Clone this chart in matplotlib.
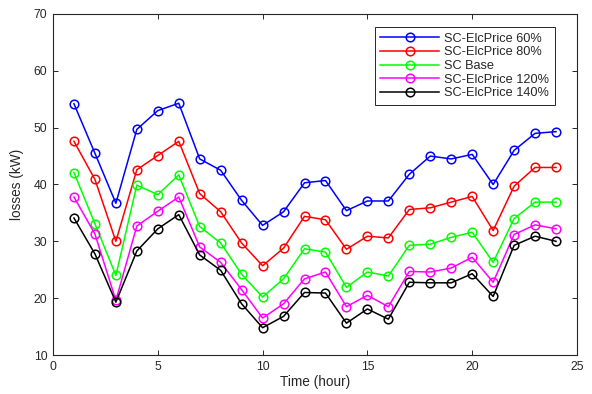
import matplotlib
matplotlib.use("Agg")
import matplotlib.pyplot as plt

hours = list(range(1, 25))

price_60 = [54.2, 45.5, 36.7, 49.7, 53.0, 54.3, 44.5, 42.5, 37.2, 32.8, 35.2, 40.3,
            40.7, 35.4, 37.1, 37.1, 41.8, 45.0, 44.5, 45.3, 40.0, 46.0, 49.0, 49.3]
price_80 = [47.6, 40.9, 30.0, 42.6, 45.1, 47.6, 38.4, 35.2, 29.7, 25.7, 28.8, 34.4,
            33.8, 28.6, 30.9, 30.6, 35.6, 35.9, 36.9, 37.9, 31.9, 39.7, 43.0, 43.0]
base = [42.1, 33.1, 24.0, 39.9, 38.2, 41.7, 32.6, 29.7, 24.2, 20.2, 23.4, 28.7,
        28.1, 21.9, 24.6, 23.9, 29.3, 29.5, 30.7, 31.6, 26.3, 34.0, 36.9, 36.9]
price_120 = [37.8, 31.3, 19.6, 32.7, 35.3, 37.8, 29.0, 26.3, 21.5, 16.5, 19.0, 23.4,
             24.6, 18.5, 20.5, 18.5, 24.7, 24.6, 25.3, 27.2, 22.8, 31.2, 32.9, 32.2]
price_140 = [34.1, 27.8, 19.3, 28.3, 32.2, 34.7, 27.6, 24.9, 19.0, 14.8, 16.8, 21.0,
             20.9, 15.6, 18.1, 16.3, 22.8, 22.7, 22.7, 24.3, 20.3, 29.3, 30.9, 30.0]

series = [
    ("SC-ElcPrice 60%", price_60, "#0000ff"),
    ("SC-ElcPrice 80%", price_80, "#ff0000"),
    ("SC Base", base, "#00ff00"),
    ("SC-ElcPrice 120%", price_120, "#ff00ff"),
    ("SC-ElcPrice 140%", price_140, "#000000"),
]

plt.rcParams["font.family"] = ["Liberation Sans", "DejaVu Sans"]
txt = "#262626"

fig = plt.figure(figsize=(5.92, 3.94), dpi=100)
ax = fig.add_axes([53 / 592, 39 / 394, 524 / 592, 341 / 394])

for label, vals, col in series:
    ax.plot(hours, vals, color=col, lw=1.1, marker="o", ms=6.2,
            mfc="none", mec=col, mew=1.1, label=label)

ax.set_xlim(0, 25)
ax.set_ylim(10, 70)
ax.set_xticks([0, 5, 10, 15, 20, 25])
ax.set_yticks([10, 20, 30, 40, 50, 60, 70])
ax.tick_params(direction="in", top=True, right=True, length=3.5, width=0.7,
               labelsize=8.8, colors=txt, pad=4)
for s in ax.spines.values():
    s.set_linewidth(0.8)
    s.set_color(txt)
ax.set_xlabel("Time (hour)", fontsize=9.8, color=txt, labelpad=2)
ax.set_ylabel("losses (kW)", fontsize=9.8, color=txt, labelpad=7)

leg = ax.legend(loc="upper right", bbox_to_anchor=((555 - 53) / 524, (355 - 27) / 341),
                borderaxespad=0, fontsize=9.2, handlelength=4.6, handletextpad=0.4,
                labelspacing=0.13, fancybox=False, framealpha=1, borderpad=0.45)
leg.get_frame().set_edgecolor(txt)
leg.get_frame().set_linewidth(0.7)
for t in leg.get_texts():
    t.set_color(txt)

fig.savefig("out.png", dpi=100)
